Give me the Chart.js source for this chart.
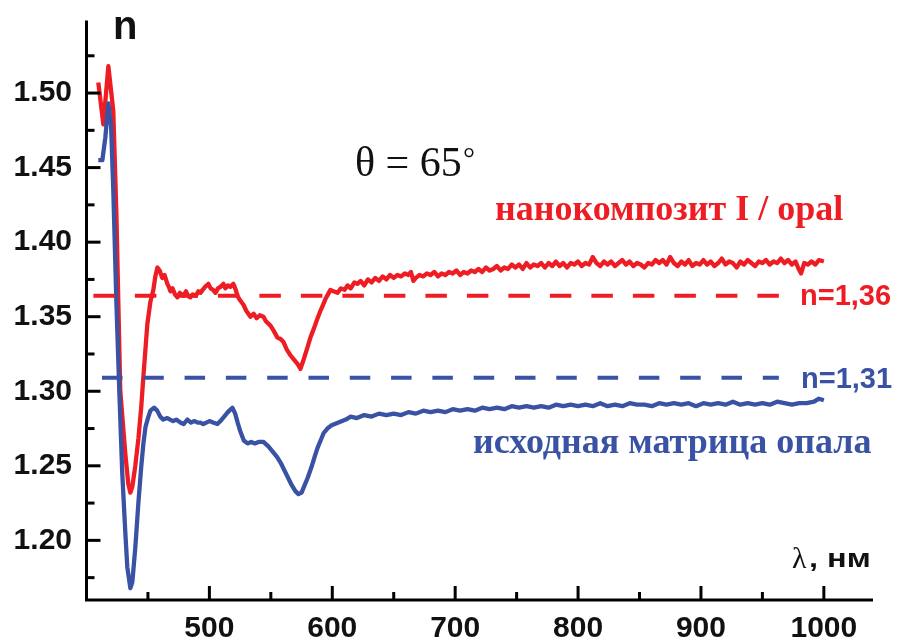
<!DOCTYPE html>
<html><head><meta charset="utf-8">
<script src="https://cdn.jsdelivr.net/npm/chart.js@4.4.0/dist/chart.umd.min.js"></script>
<style>html,body{margin:0;padding:0;background:#fff}</style>
</head><body>
<canvas id="c" width="897" height="640"></canvas>
<script>
// ---- data ----
const redLambda = [409.6,413.7,417.8,421.8,424.3,427.5,431.6,434,435.7,437.3,439.7,442.2,444.6,446.3,449.5,452,454.4,456,457.7,
459.5,461.7,463.5,465.8,467,468.3,470,472,474,476,478.8,481,482.5,484.5,486.5,489,491,492.7,494.5,496.5,499.2,501,503,504.9,507,509,511.4,513,515,517,519.5,521.5,522.8,525,527.7,530,533.4,536,538.5,541,544,546,549.7,552,555.4,558,560.3,563,566,569,572,574.1,577,580,582.2,585,588,590.4,592.5,594.5,596.5,598.5,601,604.2,607,610,612.4,615,618,620.5,623,626,629,632,635,638,641,644,647,650,653,656,659,662,664,666,668,671,674,677,680,683,686,689,692,695,698,701,704,707,710,713,716,719,722,725,728,731,734,737,740,743,746,749,752,755,758,761,764,767,770,773,776,779,782,785,788,791,794,797,800,803,806,809,812,815,818,821,824,827,830,833,836,839,842,845,848,851,854,857,860,863,866,869,872,875,878,881,884,887,890,893,896,899,902,905,908,911,914,917,920,923,926,929,932,935,938,941,944,947,950,953,956,959,962,965,968,971,974,977,979.5,981.5,984,987,990,993,996,1000];
const redN = [1.507,1.479,1.518,1.488,1.42,1.30,1.258,1.238,1.232,1.236,1.25,1.268,1.29,1.31,1.345,1.36,1.368,1.377,1.383,
1.381,1.376,1.378,1.372,1.370,1.367,1.369,1.365,1.363,1.366,1.364,1.367,1.364,1.363,1.365,1.364,1.367,1.366,1.368,1.370,1.372,1.369,1.368,1.366,1.369,1.370,1.372,1.369,1.371,1.370,1.372,1.368,1.364,1.361,1.358,1.354,1.350,1.352,1.349,1.351,1.350,1.347,1.344,1.341,1.336,1.335,1.333,1.328,1.324,1.321,1.318,1.315,1.322,1.330,1.336,1.342,1.349,1.354,1.358,1.362,1.365,1.368,1.367,1.366,1.369,1.368,1.371,1.369,1.373,1.372,1.374,1.371,1.375,1.373,1.376,1.374,1.377,1.375,1.378,1.376,1.378,1.377,1.379,1.378,1.380,1.374,1.376,1.378,1.377,1.379,1.378,1.380,1.377,1.379,1.378,1.380,1.379,1.381,1.378,1.380,1.379,1.381,1.380,1.382,1.380,1.383,1.381,1.382,1.384,1.381,1.383,1.382,1.385,1.383,1.385,1.382,1.386,1.383,1.385,1.384,1.386,1.383,1.386,1.384,1.387,1.384,1.386,1.383,1.386,1.385,1.387,1.384,1.386,1.385,1.390,1.386,1.384,1.387,1.385,1.387,1.384,1.386,1.388,1.385,1.387,1.384,1.386,1.385,1.383,1.386,1.385,1.388,1.386,1.388,1.385,1.390,1.386,1.384,1.387,1.385,1.388,1.384,1.386,1.385,1.388,1.385,1.387,1.384,1.386,1.389,1.385,1.387,1.386,1.383,1.387,1.385,1.388,1.386,1.384,1.387,1.386,1.388,1.385,1.387,1.386,1.389,1.386,1.388,1.385,1.387,1.382,1.379,1.386,1.385,1.387,1.385,1.388,1.387];

const blueLambda = [409.6,412.9,415.3,417.8,420,421.8,424.3,426.7,429.1,431.6,433.2,435.7,437.3,439.7,442.2,444.6,446.3,448,450,452,455,457.5,460,462.5,465.8,468,470.5,473,476.4,479,482.1,485,488,490.5,492.7,495,497.5,500,503,506.5,509,512,515,518.7,521,523,525.2,528,531,534,537,540,544,548,552,555,558,561,564,567,570,572.5,575,577,580,583,586,588,591,593,596,599,602,605,608,611,
615,620,626,632,638,644,650,656,662,668,674,680,686,692,698,704,710,716,722,728,734,740,746,752,758,764,770,776,782,788,794,800,806,812,818,824,830,836,842,848,854,860,866,872,878,884,890,896,902,908,914,920,926,932,938,944,950,956,962,968,974,980,986,992,996,1000];
const blueN = [1.455,1.455,1.47,1.493,1.478,1.435,1.36,1.30,1.245,1.205,1.182,1.168,1.172,1.195,1.225,1.250,1.265,1.276,1.282,1.287,1.289,1.287,1.283,1.281,1.282,1.281,1.280,1.281,1.279,1.278,1.281,1.279,1.280,1.279,1.279,1.278,1.279,1.280,1.279,1.278,1.280,1.283,1.286,1.289,1.285,1.279,1.273,1.267,1.265,1.266,1.265,1.266,1.266,1.263,1.259,1.256,1.252,1.247,1.242,1.237,1.233,1.231,1.232,1.236,1.242,1.249,1.257,1.262,1.268,1.272,1.275,1.277,1.278,1.279,1.280,1.281,
1.283,1.282,1.284,1.283,1.285,1.284,1.285,1.284,1.286,1.285,1.287,1.286,1.287,1.286,1.288,1.287,1.288,1.287,1.289,1.288,1.289,1.288,1.290,1.289,1.290,1.289,1.290,1.289,1.291,1.290,1.291,1.290,1.291,1.290,1.292,1.290,1.291,1.290,1.292,1.291,1.291,1.290,1.292,1.291,1.292,1.291,1.292,1.290,1.292,1.291,1.292,1.291,1.293,1.291,1.292,1.291,1.292,1.291,1.293,1.292,1.291,1.292,1.292,1.293,1.295,1.294];

const redLevel = 1.364;   // n=1,36 reference line
const blueLevel = 1.309;  // n=1,31 reference line
const redLevelLambda = [405.6, 963.4];
const blueLevelLambda = [412.6, 963.4];

const xMajor = [500,600,700,800,900,1000];
const xMinor = [450,550,650,750,850,950];
const yMajor = [1.20,1.25,1.30,1.35,1.40,1.45,1.50];
const yMinor = [1.175,1.225,1.275,1.325,1.375,1.425,1.475,1.525];
const xTickLabels = ['500','600','700','800','900','1000'];
const yTickLabels = ['1.20','1.25','1.30','1.35','1.40','1.45','1.50'];

// ---- style ----
const RED = '#ee1d24';
const BLUE = '#3a52a3';
const pts = (xs, ys) => xs.map((x, i) => ({x, y: ys[i]}));

const axesPlugin = {
  id: 'axesAndText',
  afterDraw(chart) {
    const {ctx, chartArea: a, scales: {x, y}} = chart;
    ctx.save();
    ctx.strokeStyle = '#000';
    ctx.lineWidth = 3;
    ctx.lineCap = 'butt';
    ctx.beginPath();
    ctx.moveTo(a.left, a.top + 2);
    ctx.lineTo(a.left, a.bottom);
    ctx.lineTo(a.right, a.bottom);
    ctx.stroke();
    const seg = (x1, y1, x2, y2) => { ctx.beginPath(); ctx.moveTo(x1, y1); ctx.lineTo(x2, y2); ctx.stroke(); };
    xMajor.forEach(v => { const p = x.getPixelForValue(v); seg(p, a.bottom, p, a.bottom - 14); });
    xMinor.forEach(v => { const p = x.getPixelForValue(v); seg(p, a.bottom, p, a.bottom - 8); });
    yMajor.forEach(v => { const p = y.getPixelForValue(v); seg(a.left, p, a.left + 14, p); });
    yMinor.forEach(v => { const p = y.getPixelForValue(v); seg(a.left, p, a.left + 8, p); });

    ctx.textBaseline = 'alphabetic';
    ctx.textAlign = 'left';
    ctx.fillStyle = '#111';
    ctx.font = 'bold 40px "Liberation Sans"';
    ctx.fillText('n', 113, 39);

    ctx.font = '30px "Liberation Serif"';
    ctx.fillText('λ', 792, 568);
    ctx.save();
    ctx.translate(809, 567);
    ctx.scale(1.3, 1);
    ctx.font = 'bold 25px "Liberation Sans"';
    ctx.fillText(', нм', 0, 0);
    ctx.restore();

    ctx.font = '42px "Liberation Serif"';
    ctx.fillText('θ = 65', 355, 176);
    ctx.font = '30px "Liberation Serif"';
    ctx.fillText('°', 463, 168);

    ctx.fillStyle = RED;
    ctx.font = 'bold 36px "Liberation Serif"';
    ctx.fillText('нанокомпозит I / opal', 495, 220);
    ctx.font = 'bold 29px "Liberation Sans"';
    ctx.fillText('n=1,36', 800, 305);

    ctx.fillStyle = BLUE;
    ctx.font = 'bold 36px "Liberation Serif"';
    ctx.fillText('исходная матрица опала', 473, 453);
    ctx.font = 'bold 29px "Liberation Sans"';
    ctx.fillText('n=1,31', 801, 388);
    ctx.restore();
  }
};

new Chart(document.getElementById('c'), {
  type: 'line',
  data: {
    datasets: [
      {data: pts(blueLevelLambda, [blueLevel, blueLevel]), borderColor: BLUE, borderWidth: 4, borderDash: [20.5, 20.8], pointRadius: 0, fill: false},
      {data: pts(redLevelLambda, [redLevel, redLevel]), borderColor: RED, borderWidth: 4, borderDash: [21.5, 20], pointRadius: 0, fill: false},
      {data: pts(blueLambda, blueN), borderColor: BLUE, borderWidth: 4.3, pointRadius: 0, tension: 0, borderJoinStyle: 'round', fill: false},
      {data: pts(redLambda, redN), borderColor: RED, borderWidth: 4.3, pointRadius: 0, tension: 0, borderJoinStyle: 'round', fill: false}
    ]
  },
  options: {
    responsive: false,
    animation: false,
    devicePixelRatio: 1,
    layout: {padding: {left: 0, right: 24, top: 18.5, bottom: 0}},
    plugins: {legend: {display: false}, tooltip: {enabled: false}},
    scales: {
      x: {
        type: 'linear', min: 400, max: 1040,
        grid: {display: false, drawTicks: false},
        border: {display: false},
        afterBuildTicks: s => { s.ticks = xMinor.concat(xMajor).sort((a, b) => a - b).map(v => ({value: v})); },
        afterFit: s => { s.height = 40; s.paddingLeft = 0; s.paddingRight = 0; },
        ticks: {
          autoSkip: false, maxRotation: 0, padding: 11, color: '#111',
          font: {family: 'Liberation Sans', weight: 'bold', size: 30},
          callback: v => { const i = xMajor.indexOf(v); return i >= 0 ? xTickLabels[i] : ''; }
        }
      },
      y: {
        type: 'linear', min: 1.16, max: 1.55,
        grid: {display: false, drawTicks: false},
        border: {display: false},
        afterBuildTicks: s => { s.ticks = yMinor.concat(yMajor).sort((a, b) => a - b).map(v => ({value: v})); },
        afterFit: s => { s.width = 86.5; s.paddingTop = 0; s.paddingBottom = 0; },
        ticks: {
          autoSkip: false, padding: 14.5, color: '#111',
          font: {family: 'Liberation Sans', weight: 'bold', size: 30},
          callback: v => { const i = yMajor.indexOf(v); return i >= 0 ? yTickLabels[i] : ''; }
        }
      }
    }
  },
  plugins: [axesPlugin]
});
</script>
</body></html>
